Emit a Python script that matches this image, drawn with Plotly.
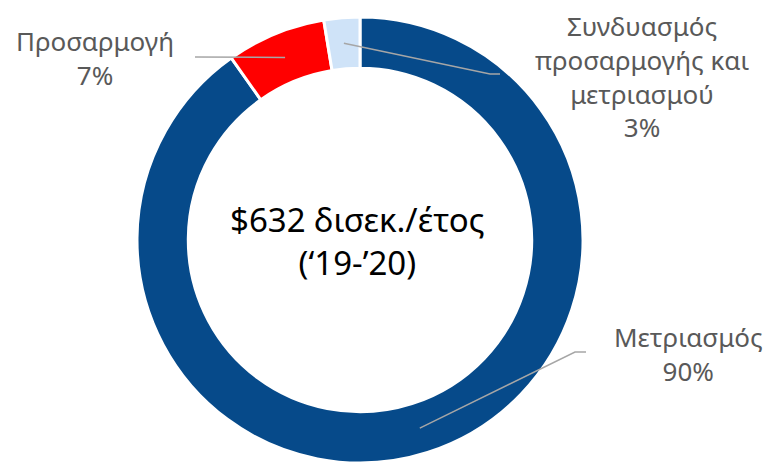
import math
import plotly.graph_objects as go

labels = ["Μετριασμός", "Προσαρμογή", "Συνδυασμός<br>προσαρμογής και<br>μετριασμού"]
values = [90.2, 7.2, 2.6]
colors = ["#064a8a", "#ff0000", "#cfe3f8"]
center_text = "$632 δισεκ./έτος<br>(‘19-’20)"

# the page body has an 8px margin, so the figure is drawn from (8, 8)
OFF = 8
W, H = 772 - OFF, 463 - OFF
CX, CY, R = 360, 240, 223      # pie centre / radius in page pixels
HOLE = 0.77

# label anchor (px) and leader elbow (px) for each slice
label_pos = [(688, 354), (95, 58), (642, 76)]
elbows = [[(575, 352), (586, 352)], [(195, 57)], [(490, 74), (500, 74)]]

def px(x, y):
    return (x - OFF) / W, 1 - (y - OFF) / H

fig = go.Figure(go.Pie(
    labels=labels, values=values, hole=HOLE, sort=False,
    direction="clockwise", rotation=0,
    marker=dict(colors=colors, line=dict(color="white", width=3)),
    textinfo="none", hoverinfo="label+percent", showlegend=False,
    domain=dict(x=[px(CX - R, 0)[0], px(CX + R, 0)[0]], y=[px(0, CY + R)[1], px(0, CY - R)[1]]),
))

total = sum(values)
cum = 0.0
shapes = []
annotations = []
rmid = R * (1 + HOLE) / 2
for lab, v, (lx, ly), elbow in zip(labels, values, label_pos, elbows):
    mid = (cum + v / 2) / total * 2 * math.pi
    cum += v
    sx = CX + rmid * math.sin(mid)
    sy = CY - rmid * math.cos(mid)
    pts = [(sx, sy)] + elbow
    path = "M " + " L ".join(f"{px(x, y)[0]:.5f},{px(x, y)[1]:.5f}" for x, y in pts)
    shapes.append(dict(type="path", path=path, xref="paper", yref="paper",
                       line=dict(color="#a6a6a6", width=1.5)))
    pct = round(v / total * 100)
    ax, ay = px(lx, ly)
    annotations.append(dict(text=f"{lab}<br>{pct}%", x=ax, y=ay, xref="paper", yref="paper",
                            showarrow=False, xanchor="center", yanchor="middle",
                            font=dict(family="Noto Sans", size=26, color="#595959")))

cx, cy = px(357, 241)
annotations.append(dict(text=center_text, x=cx, y=cy, xref="paper", yref="paper",
                        showarrow=False, xanchor="center", yanchor="middle",
                        font=dict(family="Noto Sans", size=33, color="#000000")))

fig.update_layout(width=W, height=H, margin=dict(l=0, r=0, t=0, b=0),
                  paper_bgcolor="white", plot_bgcolor="white",
                  shapes=shapes, annotations=annotations)
fig.write_html("out.html")
